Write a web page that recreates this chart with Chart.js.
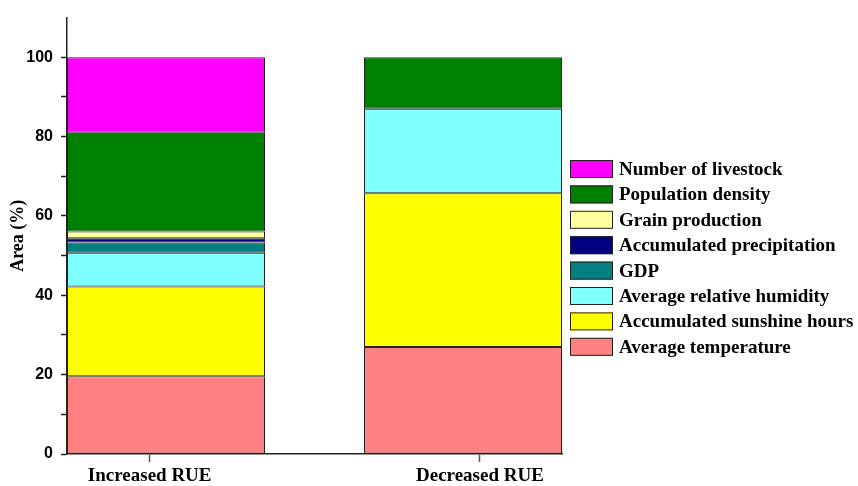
<!DOCTYPE html>
<html>
<head>
<meta charset="utf-8">
<script src="https://cdn.jsdelivr.net/npm/chart.js@4.4.0/dist/chart.umd.min.js"></script>
<style>
  html, body { margin: 0; padding: 0; background: #fff; }
  #wrap { width: 858px; height: 486px; }
</style>
</head>
<body>
<div id="wrap"><canvas id="areaChart" width="858" height="486"></canvas></div>
<script>
// Categories (x positions 0 and 1 on a linear axis)
const categories = ['Increased RUE', 'Decreased RUE'];
const categoryPos = [0, 1];
// where the category labels sit (the original puts them a bit off-centre)
const labelPos = [-0.055, 1.057];

// Series, bottom of the stack first (values in %)
const avgTemperature   = [19.6, 27.0];
const sunshineHours    = [22.6, 38.7];
const relHumidity      = [8.5, 21.3];
const gdp              = [2.6, null];
const precipitation    = [1.1, null];
const grainProduction  = [1.7, null];
const populationDensity = [24.9, 13.0];
const livestock        = [19.0, null];

const yTicks = [0, 20, 40, 60, 80, 100];

const series = [
    { label: 'Average temperature',         data: avgTemperature,    color: '#FF8080' },
    { label: 'Accumulated sunshine hours',  data: sunshineHours,     color: '#FFFF00' },
    { label: 'Average relative humidity',   data: relHumidity,       color: '#80FFFF' },
    { label: 'GDP',                         data: gdp,               color: '#008080' },
    { label: 'Accumulated precipitation',   data: precipitation,     color: '#000080' },
    { label: 'Grain production',            data: grainProduction,   color: '#FFFFA0' },
    { label: 'Population density',          data: populationDensity, color: '#008000' },
    { label: 'Number of livestock',         data: livestock,         color: '#FF00FF' }
];

// legend drawn beside the right bar, top item = top of stack
const sideLegend = {
    id: 'sideLegend',
    afterDraw(chart) {
        const ctx = chart.ctx;
        const items = chart.data.datasets.slice().reverse();
        ctx.save();
        ctx.font = 'bold 19px "Liberation Serif", "Times New Roman", serif';
        ctx.textBaseline = 'middle';
        ctx.textAlign = 'left';
        items.forEach((ds, i) => {
            const y = 160 + i * 25.4;
            ctx.fillStyle = ds.backgroundColor;
            ctx.fillRect(570, y, 43, 18);
            ctx.lineWidth = 1;
            ctx.strokeStyle = '#222';
            ctx.strokeRect(570.5, y + 0.5, 42, 17);
            ctx.fillStyle = '#000';
            ctx.fillText(ds.label, 619, y + 10);
        });
        ctx.restore();
    }
};

const ctx = document.getElementById('areaChart');
new Chart(ctx, {
    type: 'bar',
    data: {
        datasets: series.map(s => ({
            label: s.label,
            data: s.data.map((v, i) => ({ x: categoryPos[i], y: v })),
            backgroundColor: s.color,
            borderColor: '#222',
            borderWidth: 1,
            borderSkipped: false,
            categoryPercentage: 1.0,
            barPercentage: 0.6667
        }))
    },
    options: {
        responsive: false,
        animation: false,
        layout: { padding: { top: 15, right: 296, left: 0, bottom: 0 } },
        plugins: {
            legend: { display: false },
            tooltip: { enabled: false }
        },
        scales: {
            x: {
                type: 'linear',
                stacked: true,
                min: -1 / 3,
                max: 4 / 3,
                offset: false,
                grid: {
                    offset: false,
                    drawOnChartArea: false,
                    tickLength: 8,
                    tickColor: '#555',
                    tickWidth: 1.5
                },
                border: { color: '#222', width: 1.5 },
                afterBuildTicks: scale => {
                    scale.ticks = labelPos.map(v => ({ value: v }));
                },
                afterFit: scale => { scale.height = 32; },
                ticks: {
                    padding: 3,
                    maxRotation: 0,
                    autoSkip: false,
                    color: '#000',
                    font: { family: '"Liberation Serif", "Times New Roman", serif', size: 19, weight: 'bold' },
                    callback: (v, i) => categories[i]
                }
            },
            y: {
                stacked: true,
                min: 0,
                max: 110,
                grid: {
                    drawOnChartArea: false,
                    tickLength: 6,
                    tickWidth: 1.5,
                    tickColor: c => (c.tick && c.tick.value > 100 ? 'rgba(0,0,0,0)' : '#222')
                },
                border: { color: '#222', width: 1.5 },
                afterFit: scale => { scale.width = 67; },
                title: {
                    display: true,
                    text: 'Area (%)',
                    color: '#000',
                    padding: { top: 8, bottom: 0 },
                    font: { family: '"Liberation Serif", "Times New Roman", serif', size: 18, weight: 'bold' }
                },
                ticks: {
                    stepSize: 10,
                    padding: 8,
                    color: '#000',
                    font: { family: '"Liberation Sans", Arial, sans-serif', size: 16, weight: 'bold' },
                    callback: v => (yTicks.includes(v) ? v : '')
                }
            }
        }
    },
    plugins: [sideLegend]
});
</script>
</body>
</html>
